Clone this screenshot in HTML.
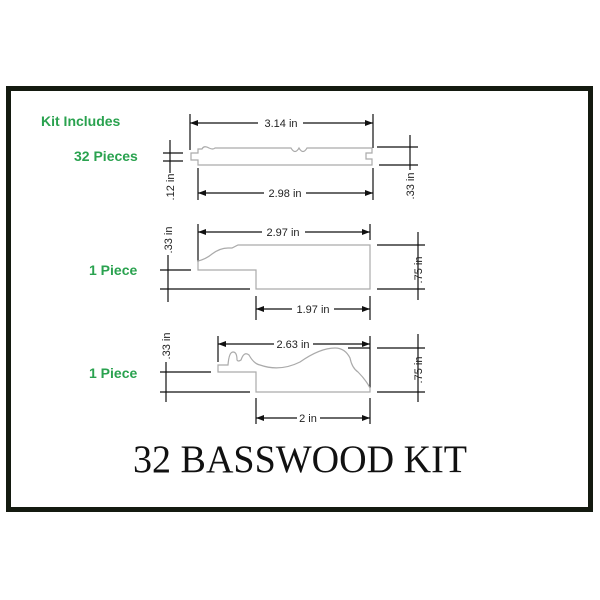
<!DOCTYPE html>
<html><head><meta charset="utf-8"><style>
html,body{margin:0;padding:0;background:#fff;width:600px;height:600px;overflow:hidden}
</style></head><body>
<svg width="600" height="600" viewBox="0 0 600 600" xmlns="http://www.w3.org/2000/svg">
<defs>
<marker id="a" viewBox="0 0 8 6" refX="8" refY="3" markerWidth="8" markerHeight="6" orient="auto-start-reverse" markerUnits="userSpaceOnUse"><path d="M0 0 L8 3 L0 6 Z" fill="#111"/></marker>
</defs>
<rect x="8.5" y="88.5" width="582" height="421" fill="#fff" stroke="#141a10" stroke-width="5"/>
<g font-family="Liberation Sans, sans-serif" font-weight="bold" font-size="14" fill="#2aa24f">
<text x="41" y="126">Kit Includes</text>
<text x="74" y="161">32 Pieces</text>
<text x="89" y="275">1 Piece</text>
<text x="89" y="378">1 Piece</text>
</g>
<g stroke="#111" stroke-width="1.2" fill="none">
<line x1="190" y1="114" x2="190" y2="150"/><line x1="373" y1="114" x2="373" y2="148"/>
<line x1="190" y1="123" x2="258" y2="123" marker-start="url(#a)"/><line x1="303" y1="123" x2="373" y2="123" marker-end="url(#a)"/>
<line x1="198" y1="168" x2="198" y2="200"/><line x1="373" y1="168" x2="373" y2="200"/>
<line x1="198" y1="193" x2="264" y2="193" marker-start="url(#a)"/><line x1="306" y1="193" x2="373" y2="193" marker-end="url(#a)"/>
<line x1="170" y1="140" x2="170" y2="173"/><line x1="163" y1="153" x2="183" y2="153"/><line x1="163" y1="161" x2="183" y2="161"/>
<line x1="410" y1="135" x2="410" y2="170"/><line x1="377" y1="147" x2="418" y2="147"/><line x1="379" y1="165" x2="418" y2="165"/>
<line x1="198" y1="224" x2="198" y2="262"/><line x1="370" y1="224" x2="370" y2="240"/>
<line x1="198" y1="232" x2="262" y2="232" marker-start="url(#a)"/><line x1="305" y1="232" x2="370" y2="232" marker-end="url(#a)"/>
<line x1="168" y1="255" x2="168" y2="302"/><line x1="160" y1="270" x2="191" y2="270"/><line x1="160" y1="289" x2="250" y2="289"/>
<line x1="418" y1="232" x2="418" y2="300"/><line x1="377" y1="245" x2="425" y2="245"/><line x1="377" y1="289" x2="425" y2="289"/>
<line x1="256" y1="296" x2="256" y2="320"/><line x1="370" y1="296" x2="370" y2="320"/>
<line x1="256" y1="309" x2="292" y2="309" marker-start="url(#a)"/><line x1="334" y1="309" x2="370" y2="309" marker-end="url(#a)"/>
<line x1="218" y1="336" x2="218" y2="362"/><line x1="370" y1="336" x2="370" y2="388"/>
<line x1="218" y1="344" x2="274" y2="344" marker-start="url(#a)"/><line x1="313" y1="344" x2="370" y2="344" marker-end="url(#a)"/>
<line x1="348" y1="348" x2="370" y2="348"/><line x1="377" y1="348" x2="425" y2="348"/><line x1="377" y1="392" x2="425" y2="392"/>
<line x1="418" y1="334" x2="418" y2="402"/>
<line x1="166" y1="362" x2="166" y2="402"/><line x1="160" y1="372" x2="211" y2="372"/><line x1="160" y1="392" x2="250" y2="392"/>
<line x1="256" y1="398" x2="256" y2="424"/><line x1="370" y1="398" x2="370" y2="424"/>
<line x1="256" y1="418" x2="297" y2="418" marker-start="url(#a)"/><line x1="320" y1="418" x2="370" y2="418" marker-end="url(#a)"/>
</g>
<g stroke="#aaa" stroke-width="1.2" fill="none">
<path d="M198 149 L202 149 Q204 145 209 148 Q213 150 215 148 L291 148 Q295 155 299 148 Q303 155 307 148 L372 148 L372 153 L366 153 L366 159 L372 159 L372 165 L198 165 L198 160 L191 160 L191 153 L198 153 Z"/>
<path d="M198 270 L198 261 Q206 259 212 254 Q220 248 228 248 L232 248 L238 245 L370 245 L370 289 L256 289 L256 270 Z"/>
<path d="M218 372 L218 365 L228 365 Q229 352 233 352 Q237 352 237 360 Q238 362 241 360 Q244 351 249 355 Q254 364 260 365 Q280 372 300 362 Q320 348 335 348 Q345 348 350 358 Q352 368 358 372 Q366 380 370 388 L370 392 L256 392 L256 372 Z"/>
</g>
<g font-family="Liberation Sans, sans-serif" font-size="11" fill="#222" text-anchor="middle">
<text x="281" y="127">3.14 in</text>
<text x="285" y="197">2.98 in</text>
<text x="283" y="236">2.97 in</text>
<text x="313" y="313">1.97 in</text>
<text x="293" y="348">2.63 in</text>
<text x="308" y="422">2 in</text>
<text transform="translate(174,187) rotate(-90)">.12 in</text>
<text transform="translate(414,186) rotate(-90)">.33 in</text>
<text transform="translate(172,240) rotate(-90)">.33 in</text>
<text transform="translate(422,270) rotate(-90)">.75 in</text>
<text transform="translate(170,346) rotate(-90)">.33 in</text>
<text transform="translate(422,370) rotate(-90)">.75 in</text>
</g>
<text x="133" y="472" font-family="Liberation Serif, serif" font-size="39" fill="#111" textLength="334" lengthAdjust="spacingAndGlyphs">32 BASSWOOD KIT</text>
</svg>
</body></html>
